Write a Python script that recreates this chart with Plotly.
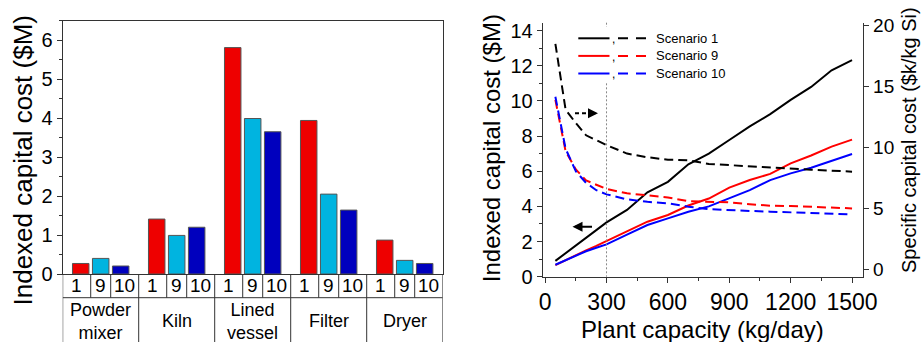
import plotly.graph_objects as go

# ---------------- data ----------------
categories = ["Powder<br>mixer", "Kiln", "Lined<br>vessel", "Filter", "Dryer"]
scenario_labels = ["1", "9", "10"]
bar_s1 = [0.27, 1.41, 5.81, 3.94, 0.87]
bar_s9 = [0.40, 0.99, 3.99, 2.05, 0.35]
bar_s10 = [0.205, 1.20, 3.65, 1.64, 0.27]

capacity = [50, 100, 150, 200, 250, 300, 400, 500, 600, 700, 800, 900, 1000, 1100, 1200, 1300, 1400, 1500]
cap_s1 = [0.90, 1.35, 1.80, 2.25, 2.65, 3.09, 3.80, 4.80, 5.40, 6.40, 7.00, 7.78, 8.55, 9.25, 10.06, 10.80, 11.75, 12.33]
cap_s9 = [0.66, 0.95, 1.25, 1.50, 1.75, 2.03, 2.60, 3.13, 3.51, 4.05, 4.45, 5.07, 5.50, 5.85, 6.45, 6.90, 7.40, 7.80]
cap_s10 = [0.68, 0.95, 1.22, 1.45, 1.65, 1.84, 2.40, 2.94, 3.32, 3.70, 4.00, 4.46, 4.93, 5.50, 5.88, 6.20, 6.60, 6.98]
spec_s1 = [18.5, 13.1, 12.0, 11.0, 10.6, 10.2, 9.5, 9.2, 9.0, 8.95, 8.65, 8.55, 8.45, 8.33, 8.25, 8.18, 8.10, 8.02]
spec_s9 = [13.9, 9.7, 8.2, 7.3, 6.95, 6.6, 6.25, 6.1, 5.9, 5.6, 5.55, 5.5, 5.35, 5.23, 5.2, 5.15, 5.08, 5.01]
spec_s10 = [14.16, 9.9, 8.05, 7.1, 6.5, 6.16, 5.75, 5.55, 5.42, 5.15, 4.95, 4.85, 4.8, 4.74, 4.68, 4.6, 4.56, 4.52]

legend_names = ["Scenario 1", "Scenario 9", "Scenario 10"]
divider_capacity = 300

# ---------------- helpers ----------------
W, H = 921, 342
def px(v):
    return v / W
def py(v):
    return 1 - v / H

FONT = "Liberation Sans, Arial, sans-serif"
AX = "#333333"
bar_colors = ["#EE0000", "#00B4E0", "#0000BE"]
line_colors = ["#000000", "#FF0000", "#0000FF"]

fig = go.Figure()
group_pos = list(range(len(categories)))

for vals, name, c in zip([bar_s1, bar_s9, bar_s10], scenario_labels, bar_colors):
    fig.add_trace(go.Bar(x=group_pos, y=vals, name=name,
                         marker=dict(color=c, line=dict(color="#555555", width=1)),
                         xaxis="x", yaxis="y", showlegend=False))

for ys, c in zip([cap_s1, cap_s9, cap_s10], line_colors):
    fig.add_trace(go.Scatter(x=capacity, y=ys, mode="lines",
                             line=dict(color=c, width=2),
                             xaxis="x2", yaxis="y2", showlegend=False))
for ys, c in zip([spec_s1, spec_s9, spec_s10], line_colors):
    fig.add_trace(go.Scatter(x=capacity, y=ys, mode="lines",
                             line=dict(color=c, width=2, dash="9px,5px"),
                             xaxis="x2", yaxis="y3", showlegend=False))

# ---------------- table under bar chart ----------------
shapes = []
annotations = []
row1_bottom = -(297.7 - 274) / 253.3
table_bottom = -0.35
slot = (1 - 0.211) / 3
shapes.append(dict(type="line", xref="x", yref="y domain", x0=-0.5, x1=len(categories) - 0.5,
                   y0=row1_bottom, y1=row1_bottom, line=dict(color=AX, width=1)))
for g in range(len(categories) + 1):
    shapes.append(dict(type="line", xref="x", yref="y domain", x0=g - 0.5, x1=g - 0.5,
                       y0=0, y1=table_bottom, line=dict(color=AX, width=1)))
for g in group_pos:
    for off in (-slot / 2, slot / 2):
        shapes.append(dict(type="line", xref="x", yref="y domain", x0=g + off, x1=g + off,
                           y0=0, y1=row1_bottom, line=dict(color=AX, width=1)))
    cell_centers = [g - (0.5 + slot / 2) / 2, g, g + (0.5 + slot / 2) / 2]
    for cx, lab in zip(cell_centers, scenario_labels):
        annotations.append(dict(x=cx, y=row1_bottom / 2, xref="x", yref="y domain", text=lab,
                                showarrow=False, font=dict(size=19, family=FONT, color="black"),
                                xanchor="center", yanchor="middle"))
    annotations.append(dict(x=g, y=-(321 - 274) / 253.3, xref="x", yref="y domain", text=categories[g],
                            showarrow=False, font=dict(size=18, family=FONT, color="black"),
                            xanchor="center", yanchor="middle"))

# ---------------- right chart decorations ----------------
for y0, y1 in [(1.0, 1 - (27 - 22.7) / 254), (1 - (83.3 - 22.7) / 254, 0.0)]:
    shapes.append(dict(type="line", xref="x2", yref="y2 domain", x0=divider_capacity, x1=divider_capacity,
                       y0=y0, y1=y1, line=dict(color="#888888", width=1, dash="2px,2px")))

row_y = [38.3, 55.9, 73.5]
for yy, c, name in zip(row_y, line_colors, legend_names):
    shapes.append(dict(type="line", xref="paper", yref="paper", x0=px(578.3), x1=px(609.5),
                       y0=py(yy), y1=py(yy), line=dict(color=c, width=2)))
    shapes.append(dict(type="line", xref="paper", yref="paper", x0=px(618), x1=px(647),
                       y0=py(yy), y1=py(yy), line=dict(color=c, width=2, dash="10px,8px")))
    annotations.append(dict(x=px(613.5), y=py(yy + 1), xref="paper", yref="paper", text=",",
                            showarrow=False, font=dict(size=12, family=FONT, color="black"),
                            xanchor="center", yanchor="middle"))
    annotations.append(dict(x=px(654), y=py(yy), xref="paper", yref="paper", text=name,
                            showarrow=False, font=dict(size=13, family=FONT, color="black"),
                            xanchor="left", yanchor="middle"))

shapes.append(dict(type="line", xref="paper", yref="paper", x0=px(575), x1=px(591),
                   y0=py(113.3), y1=py(113.3), line=dict(color="black", width=2, dash="4px,3px")))
annotations.append(dict(x=px(598), y=py(113.3), xref="paper", yref="paper", ax=-8, ay=0,
                        text="", showarrow=True, arrowhead=2, arrowsize=1, arrowwidth=2,
                        arrowcolor="black"))
annotations.append(dict(x=px(572.5), y=py(226.7), xref="paper", yref="paper", ax=21, ay=0,
                        text="", showarrow=True, arrowhead=2, arrowsize=1, arrowwidth=2,
                        arrowcolor="black"))

annotations += [
    dict(x=px(22.5), y=py(161), xref="paper", yref="paper", text="Indexed capital cost ($M)",
         textangle=-90, showarrow=False, font=dict(size=26, family=FONT, color="black"),
         xanchor="center", yanchor="middle"),
    dict(x=px(491.7), y=py(148.5), xref="paper", yref="paper",
         text="Indexed capital cost ($M)", textangle=-90, showarrow=False,
         font=dict(size=24, family=FONT, color="black"), xanchor="center", yanchor="middle"),
    dict(x=px(909), y=py(140), xref="paper", yref="paper", text="Specific capital cost ($k/kg Si)",
         textangle=-90, showarrow=False, font=dict(size=20, family=FONT, color="black"),
         xanchor="center", yanchor="middle"),
    dict(x=px(702.5), y=py(329), xref="paper", yref="paper", text="Plant capacity (kg/day)",
         showarrow=False, font=dict(size=24, family=FONT, color="black"),
         xanchor="center", yanchor="middle"),
]

common = dict(showgrid=False, zeroline=False, showline=True, linecolor=AX, linewidth=1,
              tickcolor=AX, tickwidth=1, automargin=False)

fig.update_layout(
    width=W, height=H, margin=dict(l=0, r=0, t=0, b=0),
    paper_bgcolor="white", plot_bgcolor="white",
    font=dict(family=FONT, color="black"),
    barmode="group", bargap=0.211, bargroupgap=0.175, showlegend=False,
    xaxis=dict(domain=[px(62.7), px(442.7)], range=[-0.5, len(categories) - 0.5],
               showticklabels=False, ticks="", mirror=True, anchor="y", **common),
    yaxis=dict(domain=[py(274), py(20.7)], range=[0, 6.5], tick0=0, dtick=1,
               ticks="outside", ticklen=5, mirror=True, anchor="x",
               minor=dict(dtick=0.5, ticklen=3, ticks="outside", tickcolor=AX),
               tickfont=dict(size=20), **common),
    xaxis2=dict(domain=[px(542.7), px(863.3)], range=[-12, 1555], tick0=0, dtick=300,
                ticks="outside", ticklen=5, anchor="y2",
                minor=dict(dtick=150, ticklen=3, ticks="outside", tickcolor=AX),
                tickfont=dict(size=23), **common),
    yaxis2=dict(domain=[py(276.7), py(22.7)], range=[0, 14.455], tick0=0, dtick=2,
                ticks="outside", ticklen=5, anchor="x2",
                minor=dict(dtick=1, ticklen=3, ticks="outside", tickcolor=AX),
                tickfont=dict(size=20), **common),
    yaxis3=dict(overlaying="y2", side="right", anchor="x2", range=[-0.59, 20.23], tick0=0, dtick=5,
                ticks="outside", ticklen=5, tickfont=dict(size=19), **common),
    shapes=shapes, annotations=annotations,
)

fig.write_html("out.html", config={"displayModeBar": False},
               post_script="document.body.style.margin='0';document.body.style.padding='0';"
                           "document.body.style.overflow='hidden';")
